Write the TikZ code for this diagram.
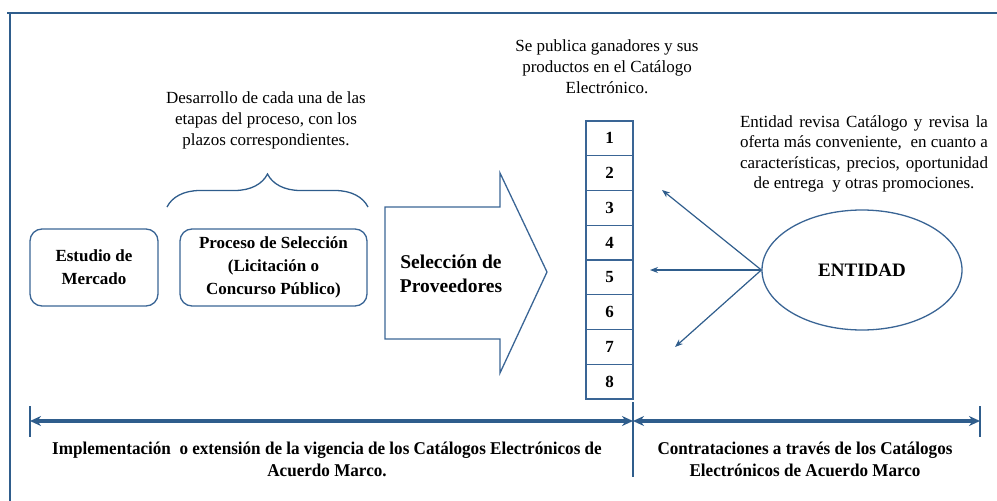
\documentclass[tikz,border=0pt]{standalone}
\usepackage{fontspec}
\setmainfont{Liberation Serif}
\usetikzlibrary{shapes.geometric,arrows.meta,decorations.pathreplacing}
\definecolor{lineblue}{HTML}{2F5D8C}
\definecolor{boxblue}{HTML}{3A6595}
\begin{document}
\begin{tikzpicture}[x=1pt,y=-1pt,
  note/.style={align=center,font=\fontsize{17}{21}\selectfont,inner sep=0},
  rbox/.style={draw=boxblue,line width=1.3pt,rounded corners=12pt,align=center,font=\fontsize{17}{23}\selectfont\bfseries},
  numbox/.style={draw=boxblue,line width=1.3pt,minimum width=47pt,minimum height=34.75pt,inner sep=0,font=\fontsize{17}{20}\selectfont\bfseries},
  ptr/.style={-{Stealth[length=8pt,width=6pt]},draw=lineblue,line width=1.2pt},
  tl/.style={{Stealth[length=11pt,width=10pt]}-{Stealth[length=11pt,width=10pt]},draw=lineblue,line width=3.5pt},
  tick/.style={draw=lineblue,line width=1.3pt},
  bold/.style={align=center,font=\fontsize{18}{22}\selectfont\bfseries,inner sep=0}]
\useasboundingbox (0,0) rectangle (997,501);
% frame
\draw[lineblue,line width=2.5pt] (7,13) -- (997,13);
\draw[lineblue,line width=1.3pt] (10,13) -- (10,501);

% top notes
\node[note] (pub) at (607,67) {Se publica ganadores y sus\\productos en el Catálogo\\Electrónico.};
\node[note] (desa) at (266,120) {Desarrollo de cada una de las\\etapas del proceso, con los\\plazos correspondientes.};
\node[note,font=\fontsize{17}{20.5}\selectfont] (ent) at (864,154) {\makebox[248pt][s]{Entidad revisa Catálogo y revisa la}\\\makebox[248pt][s]{oferta más conveniente,\ \ en cuanto a}\\\makebox[248pt][s]{características, precios, oportunidad}\\de entrega\ \ y otras promociones.};

% brace
\coordinate (bl) at (167,207);
\coordinate (br) at (368,207);
\draw[lineblue,line width=1.3pt,decorate,decoration={brace,amplitude=33pt,aspect=0.5}] (bl) -- (br);

% boxes
\node[rbox,minimum width=128pt,minimum height=77pt] (est) at (94,267.5) {Estudio de\\Mercado};
\node[rbox,minimum width=187pt,minimum height=77pt] (proc) at (273.5,267.5) {Proceso de Selección\\(Licitación o\\Concurso Público)};

% big arrow
\draw[boxblue,line width=1.3pt] (385,207) -- (500,207) -- (500,173) -- (547,272) -- (500,373) -- (500,339) -- (385,339) -- cycle;
\node[bold,font=\fontsize{19.5}{24}\selectfont\bfseries] (sel) at (451,274) {Selección de\\Proveedores};

% column of numbered boxes
\foreach \i in {1,...,8}{
  \node[numbox] (n\i) at (609.5,{121+34.75*(\i-0.5)}) {\i};
}

% entity
\node[draw=boxblue,line width=1.3pt,ellipse,minimum width=200pt,minimum height=120pt,font=\fontsize{19}{22}\selectfont\bfseries] (entidad) at (862,270) {ENTIDAD};
\coordinate (a1) at (662,190);
\coordinate (a2) at (650,270);
\coordinate (a3) at (675,347);
\draw[ptr] (entidad.west) -- (a1);
\draw[ptr] (entidad.west) -- (a2);
\draw[ptr] (entidad.west) -- (a3);

% timeline
\coordinate (tl) at (30,421);
\coordinate (tm) at (633,421);
\coordinate (tr) at (980,421);
\draw[tick] (30,406) -- (30,437);
\draw[tick] (980,406) -- (980,437);
\draw[tick] (633,402) -- (633,477);
\draw[tl] (tl) -- (tm);
\draw[tl] (tm) -- (tr);

\node[bold] (impl) at (327,459) {\scalebox{0.95}[1]{Implementación\ \ o extensión de la vigencia de los Catálogos Electrónicos de}\\\scalebox{0.95}[1]{Acuerdo Marco.}};
\node[bold] (contr) at (805,459) {\scalebox{0.95}[1]{Contrataciones a través de los Catálogos}\\\scalebox{0.95}[1]{Electrónicos de Acuerdo Marco}};
\end{tikzpicture}
\end{document}
